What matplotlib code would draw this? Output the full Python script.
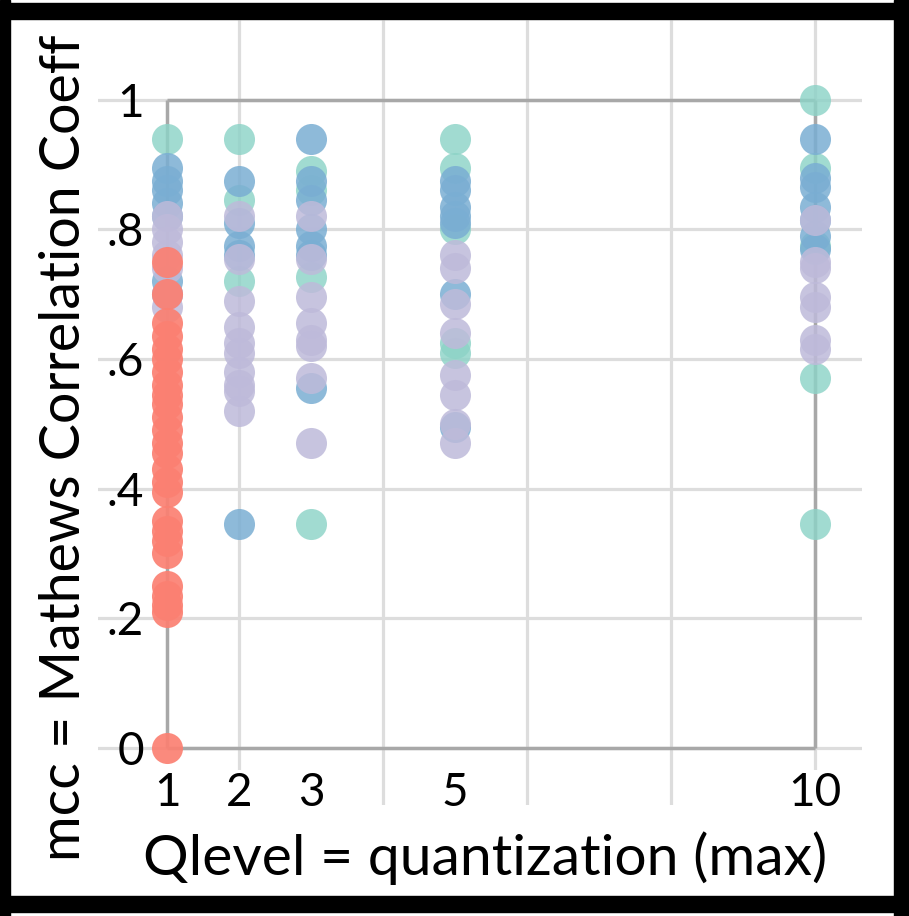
import matplotlib
matplotlib.use("Agg")
import matplotlib.pyplot as plt
from matplotlib.patches import Rectangle

# ---------------- data ----------------
qlevel_ticks = [1, 2, 3, 5, 10]
qlevel_tick_labels = ["1", "2", "3", "5", "10"]
grid_x = [2, 4, 6, 8, 10]
mcc_ticks = [0, 0.2, 0.4, 0.6, 0.8, 1.0]
mcc_tick_labels = ["0", ".2", ".4", ".6", ".8", "1"]

green_x = [1, 2, 2, 2, 3, 3, 3, 3, 5, 5, 5, 5, 5, 10, 10, 10, 10, 10]
green_y = [0.94, 0.94, 0.845, 0.72, 0.89, 0.86, 0.727, 0.345,
           0.94, 0.895, 0.80, 0.625, 0.61, 1.0, 0.895, 0.775, 0.57, 0.345]

blue_x = [1, 1, 1, 1, 1, 1, 1,
          2, 2, 2, 2, 2,
          3, 3, 3, 3, 3, 3, 3,
          5, 5, 5, 5, 5, 5, 5,
          10, 10, 10, 10, 10, 10, 10]
blue_y = [0.895, 0.875, 0.86, 0.84, 0.82, 0.72, 0.70,
          0.875, 0.81, 0.775, 0.76, 0.345,
          0.94, 0.875, 0.845, 0.80, 0.775, 0.76, 0.555,
          0.875, 0.86, 0.835, 0.82, 0.81, 0.70, 0.495,
          0.94, 0.88, 0.865, 0.835, 0.815, 0.79, 0.77]

purple_x = [1, 1, 1, 1, 1, 1, 1,
            2, 2, 2, 2, 2, 2, 2, 2, 2, 2,
            3, 3, 3, 3, 3, 3, 3, 3,
            5, 5, 5, 5, 5, 5, 5, 5,
            10, 10, 10, 10, 10, 10, 10]
purple_y = [0.82, 0.80, 0.78, 0.76, 0.74, 0.70, 0.68,
            0.82, 0.755, 0.69, 0.65, 0.625, 0.61, 0.58, 0.56, 0.55, 0.52,
            0.82, 0.755, 0.695, 0.655, 0.63, 0.62, 0.57, 0.47,
            0.76, 0.74, 0.685, 0.64, 0.575, 0.545, 0.50, 0.47,
            0.815, 0.75, 0.74, 0.695, 0.68, 0.63, 0.615]

red_x = [1] * 26
red_y = [0.75, 0.70, 0.655, 0.635, 0.615, 0.60, 0.58, 0.56, 0.545, 0.53,
         0.51, 0.49, 0.47, 0.455, 0.43, 0.41, 0.395, 0.35, 0.335, 0.32,
         0.30, 0.25, 0.235, 0.22, 0.21, 0.0]

series = [
    (green_x, green_y, "#8dd3c7", 0.82),
    (blue_x, blue_y, "#7aaed3", 0.85),
    (purple_x, purple_y, "#bebada", 0.85),
    (red_x, red_y, "#fb8072", 0.92),
]

# ---------------- figure ----------------
plt.rcParams["font.family"] = ["Lato", "DejaVu Sans"]
W, H = 909, 916
fig = plt.figure(figsize=(W / 100, H / 100), dpi=100)
fig.patch.set_facecolor("white")

L, R, T, B = 98, 862, 20, 805
ax = fig.add_axes([L / W, (H - B) / H, (R - L) / W, (B - T) / H])
ax.set_facecolor("white")

ylo, yhi = -0.088, 1.123
ax.set_xlim(0.04, 10.65)
ax.set_ylim(ylo, yhi)

for s in ax.spines.values():
    s.set_visible(False)

# vertical gridlines at even qlevels, drawn below the tick labels
ax.vlines(grid_x, ylo, yhi, color="#dddddd", lw=2.3, zorder=0)
ax.set_xticks(qlevel_ticks, labels=qlevel_tick_labels)
ax.tick_params(axis="x", length=0, pad=-24, labelsize=33)
for lab in ax.get_xticklabels():
    lab.set_bbox(dict(facecolor="white", edgecolor="none", pad=1))

ax.set_yticks(mcc_ticks, labels=mcc_tick_labels)
ax.yaxis.grid(True, color="#dddddd", lw=2.3, zorder=0)
ax.tick_params(axis="y", length=0, pad=-33, labelsize=33)
ax.set_axisbelow(True)

# frame rectangle from qlevel 1 to 10, mcc 0 to 1
x_lo, x_hi = min(qlevel_ticks), max(qlevel_ticks)
ax.hlines([mcc_ticks[0], mcc_ticks[-1]], x_lo, x_hi, color="#a8a8a8", lw=2.5, zorder=1)
ax.vlines([x_lo, x_hi], mcc_ticks[0], mcc_ticks[-1], color="#a8a8a8", lw=2.5, zorder=1)

for xs, ys, c, a in series:
    ax.scatter(xs, ys, s=500, color=c, alpha=a, linewidths=0, zorder=3)

ax.set_xlabel("Qlevel = quantization (max)", fontsize=41, va="center")
ax.xaxis.set_label_coords((485 - L) / (R - L), (B - 858) / (B - T))
ax.set_ylabel("mcc = Mathews Correlation Coeff", fontsize=40, va="center")
ax.yaxis.set_label_coords((65 - L) / (R - L), (B - 448) / (B - T))

# thick black border
for (x0, y0, w, h) in [(0, 0, 10, H), (W - 15, 0, 15, H), (0, H - 20, W, 16), (0, 3, W, 16)]:
    fig.patches.append(Rectangle((x0 / W, 1 - (y0 + h) / H), w / W, h / H,
                                 transform=fig.transFigure, color="black", zorder=10))

fig.savefig("out.png", dpi=100)
